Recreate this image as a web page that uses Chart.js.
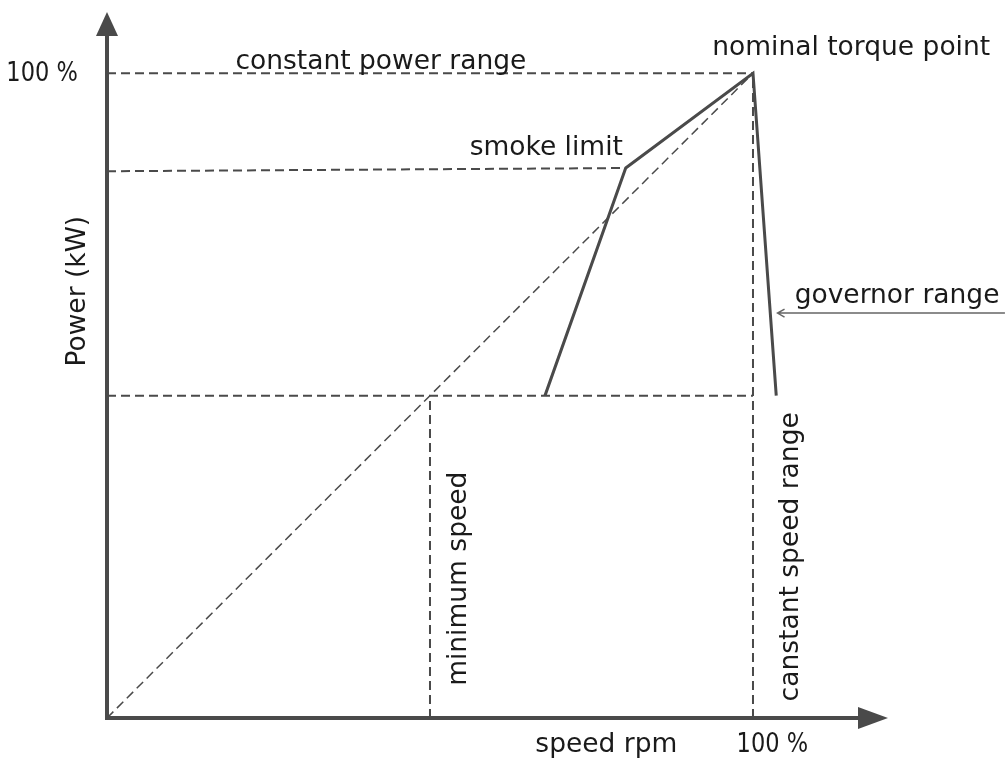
<!DOCTYPE html>
<html>
<head>
<meta charset="utf-8">
<script src="https://cdn.jsdelivr.net/npm/chart.js@4.4.1/dist/chart.umd.min.js"></script>
<style>
  html, body { margin: 0; padding: 0; background: #fff; }
  #wrap { width: 1005px; height: 760px; }
</style>
</head>
<body>
<div id="wrap"><canvas id="c" width="1005" height="760"></canvas></div>
<script>
// Engine operating envelope, speed and power in % of nominal
const nominalPoint = [100, 100];
const smokeLimitPoint = [80.3, 85.3];
const smokeStartPoint = [67.8, 50];
const governorEndPoint = [103.6, 50];
const minimumSpeed = 50;
const minimumPower = 50;
const smokePower = 84.8;

const envelopeX = [smokeStartPoint[0], smokeLimitPoint[0], nominalPoint[0], governorEndPoint[0]];
const envelopeY = [smokeStartPoint[1], smokeLimitPoint[1], nominalPoint[1], governorEndPoint[1]];

const axisMaxX = 120.9;
const axisMaxY = 109.5;

const ink = '#4a4a4a';
const textColor = '#1a1a1a';
const fontFamily = '"DejaVu Sans", sans-serif';

function pts(xs, ys) { return xs.map((x, i) => ({ x: x, y: ys[i] })); }

const dashed = { borderColor: ink, borderWidth: 2, borderDash: [9, 5], pointRadius: 0, showLine: true, fill: false };

// Text labels placed in data coordinates (squeeze = horizontal condensing of the glyphs)
const labels = [
  { text: '100 %', x: -4.5, y: 98.8, align: 'right', rot: 0, squeeze: 0.85 },
  { text: 'constant power range', x: 42.4, y: 100.6, align: 'center', rot: 0 },
  { text: 'nominal torque point', x: 115.2, y: 102.8, align: 'center', rot: 0 },
  { text: 'smoke limit', x: 68, y: 87.3, align: 'center', rot: 0 },
  { text: 'governor range', x: 122.3, y: 64.4, align: 'center', rot: 0 },
  { text: 'speed rpm', x: 77.3, y: -5.3, align: 'center', rot: 0 },
  { text: '100 %', x: 103, y: -5.3, align: 'center', rot: 0, squeeze: 0.85 },
  { text: 'Power (kW)', x: -3.4, y: 66.2, align: 'center', rot: -Math.PI / 2 },
  { text: 'minimum speed', x: 55.6, y: 21.6, align: 'center', rot: -Math.PI / 2 },
  { text: 'canstant speed range', x: 107, y: 25, align: 'center', rot: -Math.PI / 2 }
];

// Governor range pointer: from outside the plot towards the governor line
const governorPointerX = [139, 103.8];
const governorPointerY = [62.8, 62.8];

const decorations = {
  id: 'decorations',
  afterDatasetsDraw(chart) {
    const { ctx, scales: { x, y } } = chart;
    const x0 = x.getPixelForValue(0), y0 = y.getPixelForValue(0);
    const xEnd = x.getPixelForValue(axisMaxX), yEnd = y.getPixelForValue(axisMaxY);
    ctx.save();
    // axes with arrow heads
    ctx.strokeStyle = ink; ctx.fillStyle = ink; ctx.lineWidth = 4; ctx.lineCap = 'butt';
    ctx.beginPath();
    ctx.moveTo(x0, y0 + 2); ctx.lineTo(x0, yEnd + 20);
    ctx.moveTo(x0 - 2, y0); ctx.lineTo(xEnd - 20, y0);
    ctx.stroke();
    ctx.beginPath();
    ctx.moveTo(x0, yEnd); ctx.lineTo(x0 - 11, yEnd + 24); ctx.lineTo(x0 + 11, yEnd + 24); ctx.closePath();
    ctx.fill();
    ctx.beginPath();
    ctx.moveTo(xEnd, y0); ctx.lineTo(xEnd - 30, y0 - 11); ctx.lineTo(xEnd - 30, y0 + 11); ctx.closePath();
    ctx.fill();

    // governor pointer
    const ax1 = x.getPixelForValue(governorPointerX[0]), ax2 = x.getPixelForValue(governorPointerX[1]);
    const ay = y.getPixelForValue(governorPointerY[0]);
    ctx.strokeStyle = '#666'; ctx.lineWidth = 1.5;
    ctx.beginPath();
    ctx.moveTo(ax1, ay); ctx.lineTo(ax2, ay);
    ctx.moveTo(ax2 + 7, ay - 4); ctx.lineTo(ax2, ay); ctx.lineTo(ax2 + 7, ay + 4);
    ctx.stroke();

    // labels
    ctx.fillStyle = textColor;
    ctx.textBaseline = 'alphabetic';
    ctx.font = '26.5px ' + fontFamily;
    labels.forEach(l => {
      ctx.save();
      ctx.translate(x.getPixelForValue(l.x), y.getPixelForValue(l.y));
      ctx.rotate(l.rot);
      ctx.scale(l.squeeze || 1, 1);
      ctx.textAlign = l.align;
      ctx.fillText(l.text, 0, 0);
      ctx.restore();
    });
    ctx.restore();
  }
};

new Chart(document.getElementById('c'), {
  type: 'scatter',
  data: {
    datasets: [
      Object.assign({ data: pts([0, nominalPoint[0]], [0, nominalPoint[1]]) }, dashed, { borderWidth: 1.5 }),
      Object.assign({ data: pts([0, nominalPoint[0]], [nominalPoint[1], nominalPoint[1]]) }, dashed),
      Object.assign({ data: pts([0, smokeLimitPoint[0]], [smokePower, smokeLimitPoint[1]]) }, dashed),
      Object.assign({ data: pts([0, nominalPoint[0]], [minimumPower, minimumPower]) }, dashed),
      Object.assign({ data: pts([nominalPoint[0], nominalPoint[0]], [0, nominalPoint[1]]) }, dashed),
      Object.assign({ data: pts([minimumSpeed, minimumSpeed], [0, minimumPower]) }, dashed),
      { data: pts(envelopeX, envelopeY), borderColor: ink, borderWidth: 3, pointRadius: 0, showLine: true, fill: false, borderJoinStyle: 'miter' }
    ]
  },
  options: {
    responsive: false,
    animation: false,
    layout: { padding: { left: 107, top: 12, right: 117, bottom: 42 } },
    plugins: { legend: { display: false }, tooltip: { enabled: false } },
    scales: {
      x: { type: 'linear', min: 0, max: axisMaxX, display: false },
      y: { type: 'linear', min: 0, max: axisMaxY, display: false }
    }
  },
  plugins: [decorations]
});
</script>
</body>
</html>
